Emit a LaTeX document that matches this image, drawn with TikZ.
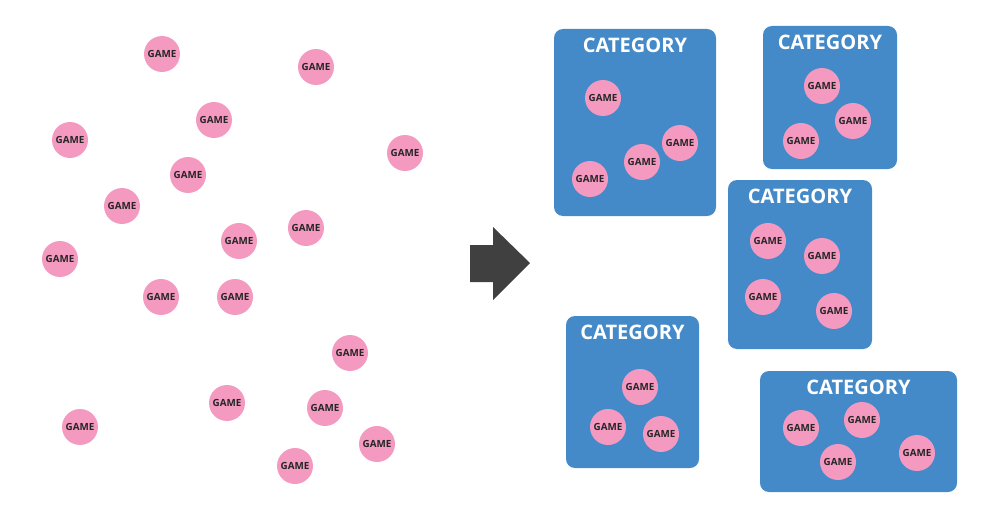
\documentclass[tikz,border=0pt]{standalone}
\usepackage{fontspec}
\setmainfont{Open Sans}
\definecolor{gamepink}{HTML}{F49AC1}
\definecolor{catblue}{HTML}{448AC9}
\definecolor{arrowgray}{HTML}{404040}
\tikzset{
  game/.style={circle, fill=gamepink, minimum size=0.72cm, inner sep=0pt,
    font=\fontsize{5.6}{6}\selectfont\bfseries, text=black!85},
  catbox/.style={fill=catblue, rounded corners=0.18cm},
  cattitle/.style={font=\fontsize{11.4}{13}\selectfont\bfseries, text=white, inner sep=0pt}
}
\begin{document}
\begin{tikzpicture}[x=0.02cm, y=-0.02cm, line join=round]
  \useasboundingbox (0,0) rectangle (1000,527);
  % loose games
  \foreach \gx/\gy [count=\i] in {162/54, 316/67, 214/120, 70/140, 405/153, 188/175,
      122/206, 239/241, 306/228, 60/259, 161/297, 235/297, 350/353, 227/403,
      325/408, 80/427, 377/444, 295/466}
    \node[game] (g\i) at (\gx,\gy) {GAME};
  % arrow
  \fill[arrowgray] (470,245) -- (493,245) -- (493,227) -- (530,263) -- (493,300)
    -- (493,282) -- (470,282) -- cycle;
  % categories: left/top/right/bottom
  \foreach \xa/\ya/\xb/\yb [count=\k] in {554/29/716/216, 763/26/897/169,
      728/180/872/349, 566/316/699/468, 760/371/957/492} {
    \fill[catbox] (\xa,\ya) rectangle (\xb,\yb);
    \node[cattitle] (c\k) at ({(\xa+\xb)/2},\ya+16) {CATEGORY};
  }
  % sorted games
  \foreach \gx/\gy [count=\i] in {603/98, 680/143, 642/162, 590/179,
      822/86, 853/121, 801/141,
      768/241, 822/256, 763/297, 834/311,
      640/387, 608/427, 661/434,
      801/428, 862/420, 838/462, 917/453}
    \node[game] (s\i) at (\gx,\gy) {GAME};
\end{tikzpicture}
\end{document}
